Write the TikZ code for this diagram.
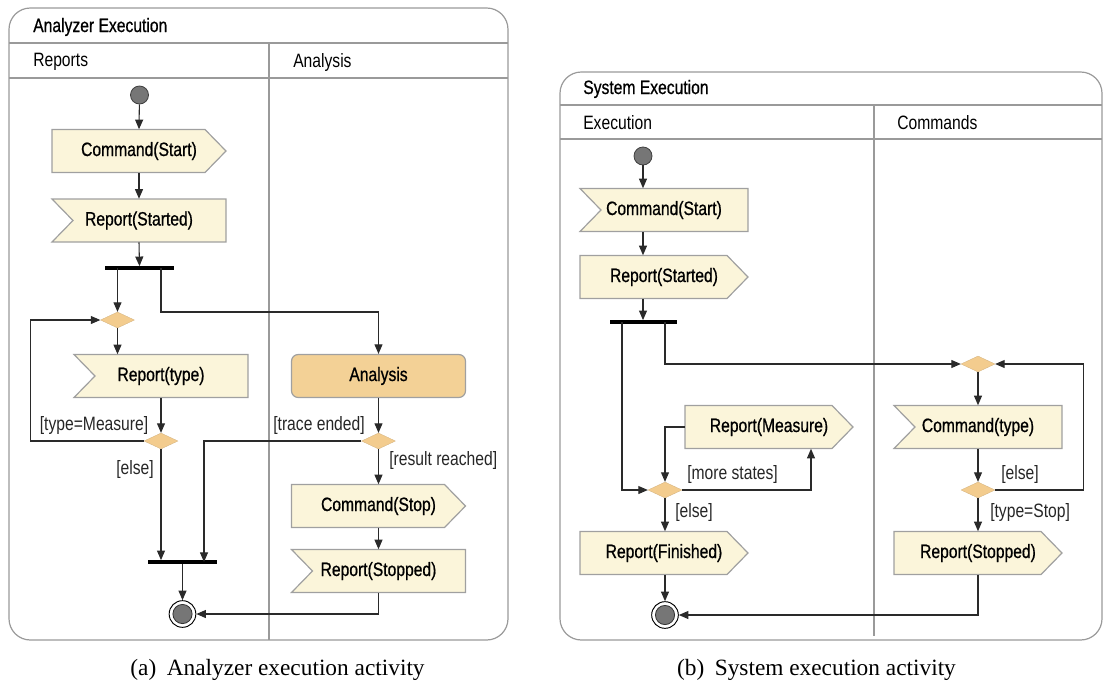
\documentclass[tikz,border=0pt]{standalone}
\usepackage{fontspec}
\setmainfont{Liberation Sans}[FakeStretch=0.81]
\newfontfamily\mediumfont{Liberation Sans}[FakeStretch=0.81,FakeBold=0.7]
\newfontfamily\capfont{Liberation Serif}
\usetikzlibrary{shapes.geometric,arrows.meta,calc}

\definecolor{sigfill}{HTML}{FBF5DA}
\definecolor{sigline}{HTML}{A0A0A0}
\definecolor{actfill}{HTML}{F3D196}
\definecolor{decfill}{HTML}{F3CC8E}
\definecolor{framegray}{HTML}{9A9A9A}
\definecolor{dotgray}{HTML}{767676}
\definecolor{wire}{HTML}{2A2A2A}

\tikzset{
  txt/.style={font=\fontsize{14.5}{17}\selectfont, inner sep=0pt},
  mtxt/.style={font=\mediumfont\fontsize{14.5}{17}\selectfont, inner sep=0pt},
  sigshape/.style={fill=sigfill, draw=sigline, line width=0.9pt},
  sigtext/.style={mtxt, minimum height=32.25pt},
  frame/.style={draw=framegray, line width=0.9pt},
  arr/.style={draw=wire, line width=0.8pt, -{Triangle[length=7.2pt,width=6pt]}},
  decision/.style={diamond, fill=decfill, draw=decfill!85!black, line width=0.2pt,
    minimum width=25.5pt, minimum height=12pt, inner sep=0pt},
  initial/.style={circle, fill=dotgray, draw=black!75, line width=0.6pt,
    minimum size=13.5pt, inner sep=0pt},
  final/.style={circle, fill=white, draw=black, line width=0.7pt,
    minimum size=20pt, inner sep=0pt,
    path picture={\draw[fill=dotgray, draw=black!80, line width=0.6pt]
      (path picture bounding box.center) circle (7.2pt);}},
  bar/.style={fill=black, minimum height=2.4pt, inner sep=0pt},
  activity/.style={mtxt, rounded corners=5pt, fill=actfill, draw=sigline,
    line width=0.9pt, minimum height=32.25pt},
  lbl/.style={txt, text=black!85},
  caption/.style={font=\capfont\fontsize{17.5}{20}\selectfont, inner sep=0pt},
}

% send signal: name, centre x, centre y, width, text
\newcommand\sendsig[5]{%
  \path[sigshape] ({#2-#4/2},{#3-21.5}) -- ({#2+#4/2-21},{#3-21.5})
    -- ({#2+#4/2},#3) -- ({#2+#4/2-21},{#3+21.5}) -- ({#2-#4/2},{#3+21.5}) -- cycle;
  \node[sigtext, minimum width={#4*0.75pt}] (#1) at (#2,#3) {#5};}
% accept event: name, centre x, centre y, width, text
\newcommand\acceptsig[5]{%
  \path[sigshape] ({#2-#4/2},{#3-21.5}) -- ({#2+#4/2},{#3-21.5})
    -- ({#2+#4/2},{#3+21.5}) -- ({#2-#4/2},{#3+21.5}) -- ({#2-#4/2+21},#3) -- cycle;
  \node[sigtext, minimum width={#4*0.75pt}] (#1) at (#2,#3) {#5};}

\begin{document}
\begin{tikzpicture}[x=0.75pt, y=-0.75pt]
\useasboundingbox (0,0) rectangle (1103,686);

%% ---------------- Analyzer execution ----------------
\draw[frame, rounded corners=16pt] (9,8) rectangle (508,640);
\draw[frame] (9,43) -- (508,43);
\draw[frame] (9,78) -- (508,78);
\draw[frame] (269,43) -- (269,640);
\node[mtxt, anchor=west] (titleA) at (33,27) {Analyzer Execution};
\node[txt, anchor=west] (laneRep) at (33,62) {Reports};
\node[txt, anchor=west] (laneAna) at (293,62) {Analysis};

\node[initial] (initA) at (139.5,95) {};
\sendsig{cmdstartA}{139}{151}{174}{Command(Start)}
\acceptsig{repstartedA}{139}{220.5}{174}{Report(Started)}
\node[bar, minimum width=51.75pt] (forkA) at (139.5,268) {};
\coordinate (forkAl) at (117.5,268);
\coordinate (forkAr) at (161,268);
\node[decision] (mergeA) at (117.5,320) {};
\acceptsig{reptypeA}{161}{376}{174}{Report(type)}
\node[decision] (decA) at (161,441) {};
\node[activity, minimum width=130.5pt] (analysisA) at (378.5,376) {Analysis};
\node[decision] (decB) at (378.5,441) {};
\sendsig{cmdstopA}{378.5}{506}{174}{Command(Stop)}
\acceptsig{repstoppedA}{378.5}{571}{174}{Report(Stopped)}
\node[bar, minimum width=51.75pt] (joinA) at (182.5,562) {};
\coordinate (joinAr) at (204,562);
\node[final] (finalA) at (182.5,614) {};

\draw[arr] (initA) -- (cmdstartA.north);
\draw[arr] (cmdstartA.south) -- (repstartedA.north);
\draw[arr] (repstartedA.south) -- (forkA.north);
\draw[arr] (forkAl) -- (mergeA.north);
\draw[arr] (forkAr) -- ++(0,44) -| (analysisA.north);
\draw[arr] (mergeA.south) -- (mergeA.south |- reptypeA.north);
\draw[arr] (reptypeA.south) -- (decA.north);
\draw[arr] (decA.west) -- ++(-113,0) |- (mergeA.west);
\draw[arr] (decA.south) -- (decA.south |- joinA.north);
\draw[arr] (analysisA.south) -- (decB.north);
\draw[arr] (decB.west) -| (joinAr);
\draw[arr] (decB.south) -- (cmdstopA.north);
\draw[arr] (cmdstopA.south) -- (repstoppedA.north);
\draw[arr] (joinA.south) -- (finalA.north);
\draw[arr] (repstoppedA.south) |- (finalA.east);

\node[lbl, anchor=east] (lblMeasure) at (148.5,425) {[type=Measure]};
\node[lbl, anchor=west] (lblElseA) at (116,469) {[else]};
\node[lbl, anchor=east] (lblTrace) at (365,425) {[trace ended]};
\node[lbl, anchor=west] (lblResult) at (389,460) {[result reached]};

%% ---------------- System execution ----------------
\draw[frame, rounded corners=16pt] (560,72) rectangle (1102,640);
\draw[frame] (560,105) -- (1102,105);
\draw[frame] (560,139) -- (1102,139);
\draw[frame] (874,105) -- (874,636);
\node[mtxt, anchor=west] (titleS) at (583,89) {System Execution};
\node[txt, anchor=west] (laneExe) at (583,123) {Execution};
\node[txt, anchor=west] (laneCmd) at (897,123) {Commands};

\node[initial] (initS) at (643,156) {};
\acceptsig{cmdstartS}{664}{210}{168}{Command(Start)}
\sendsig{repstartedS}{664}{277}{168}{Report(Started)}
\node[bar, minimum width=50.25pt] (forkS) at (643.5,322) {};
\coordinate (forkSl) at (622,322);
\coordinate (forkSr) at (665,322);
\sendsig{repmeasureS}{769}{427}{168}{Report(Measure)}
\node[decision] (mergeS) at (665,490) {};
\sendsig{repfinishedS}{664}{553}{168}{Report(Finished)}
\node[final] (finalS) at (665,615) {};
\node[decision] (mergeC) at (978,364) {};
\acceptsig{cmdtypeS}{978}{427}{168}{Command(type)}
\node[decision] (decC) at (978,490) {};
\sendsig{repstoppedS}{978}{553}{168}{Report(Stopped)}

\draw[arr] (initS) -- (initS |- cmdstartS.north);
\draw[arr] (initS |- cmdstartS.south) -- (initS |- repstartedS.north);
\draw[arr] (initS |- repstartedS.south) -- (initS |- forkS.north);
\draw[arr] (forkSl) |- (mergeS.west);
\draw[arr] (forkSr) |- (mergeC.west);
\draw[arr] (repmeasureS.west) -| (mergeS.north);
\draw[arr] (mergeS.east) -| ($(repmeasureS.south)+(42,0)$);
\draw[arr] (mergeS.south) -- (mergeS.south |- repfinishedS.north);
\draw[arr] (finalS |- repfinishedS.south) -- (finalS.north);
\draw[arr] (mergeC.south) -- (mergeC.south |- cmdtypeS.north);
\draw[arr] (decC |- cmdtypeS.south) -- (decC.north);
\draw[arr] (decC.east) -- ++(88,0) |- (mergeC.east);
\draw[arr] (decC.south) -- (decC.south |- repstoppedS.north);
\draw[arr] (decC |- repstoppedS.south) |- (finalS.east);

\node[lbl, anchor=west] (lblMore) at (687,474) {[more states]};
\node[lbl, anchor=west] (lblElseS) at (675,512) {[else]};
\node[lbl, anchor=west] (lblElseC) at (1001,474) {[else]};
\node[lbl, anchor=west] (lblStop) at (990,512) {[type=Stop]};

%% ---------------- captions ----------------
\node[caption] (capA) at (277.5,670) {(a)\hspace{0.45em}Analyzer execution activity};
\node[caption] (capB) at (816.5,670) {(b)\hspace{0.45em}System execution activity};
\end{tikzpicture}
\end{document}
